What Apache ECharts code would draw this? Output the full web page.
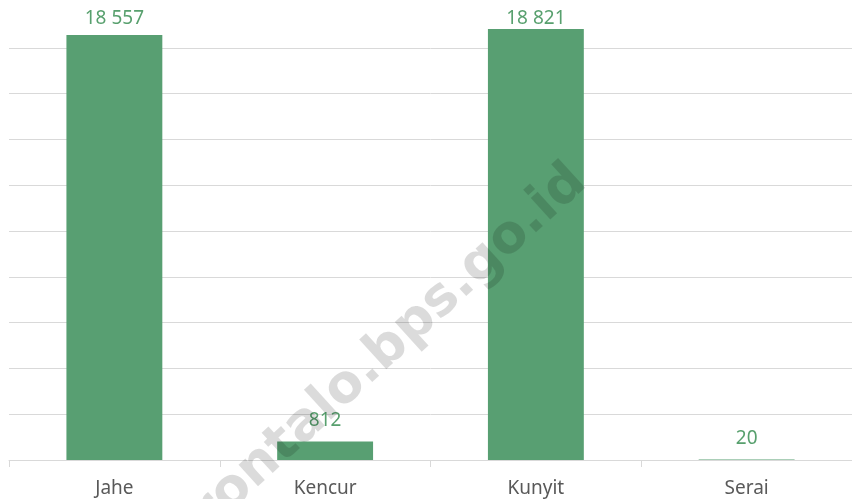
<!DOCTYPE html>
<html>
<head>
<meta charset="utf-8">
<script src="https://cdn.jsdelivr.net/npm/echarts@6/dist/echarts.min.js"></script>
<style>
  html, body { margin: 0; padding: 0; background: #fff; }
  #main { width: 852px; height: 499px; }
</style>
</head>
<body>
<div id="main"></div>
<script>
// data
var categories = ['Jahe', 'Kencur', 'Kunyit', 'Serai']
var produksi = [18557, 812, 18821, 20]
var watermark = 'gorontalo.bps.go.id'

function fmt(v) {
  return String(v).replace(/\B(?=(\d{3})+(?!\d))/g, ' ')
}

var chart = echarts.init(document.getElementById('main'))
chart.setOption({
  animation: false,
  grid: { left: 9, right: 0, top: 2, bottom: 39, containLabel: false },
  xAxis: {
    type: 'category',
    data: categories,
    axisLine: { lineStyle: { color: '#d9d9d9', width: 1 } },
    axisTick: { show: true, length: 7, lineStyle: { color: '#d9d9d9' } },
    axisLabel: {
      color: '#595959',
      fontFamily: 'Noto Sans',
      fontSize: 19,
      margin: 19
    }
  },
  yAxis: {
    type: 'value',
    min: 0,
    max: 20000,
    interval: 2000,
    axisLabel: { show: false },
    axisLine: { show: false },
    axisTick: { show: false },
    splitLine: { showMaxLine: false, lineStyle: { color: '#d9d9d9', width: 1 } }
  },
  series: [{
    type: 'bar',
    data: produksi,
    barWidth: '45.5%',
    itemStyle: { color: '#589f72' },
    label: {
      show: true,
      position: 'top',
      distance: 11,
      color: '#58a06e',
      fontFamily: 'Noto Sans',
      fontSize: 19,
      formatter: function(p) { return fmt(p.value) }
    },
    labelLayout: function(p) {
      // tall bars: labels sit on one line under the top edge
      if (p.rect.y < 40) {
        return { y: 9, align: 'center', verticalAlign: 'top' }
      }
      return {}
    }
  }],
  graphic: [{
    type: 'text',
    x: 597,
    y: 194,
    rotation: 0.74,
    z: 100,
    style: {
      text: watermark,
      align: 'right',
      verticalAlign: 'bottom',
      fill: 'rgba(0,0,0,0.14)',
      font: 'bold 53px "DejaVu Sans"'
    }
  }]
})
</script>
</body>
</html>
